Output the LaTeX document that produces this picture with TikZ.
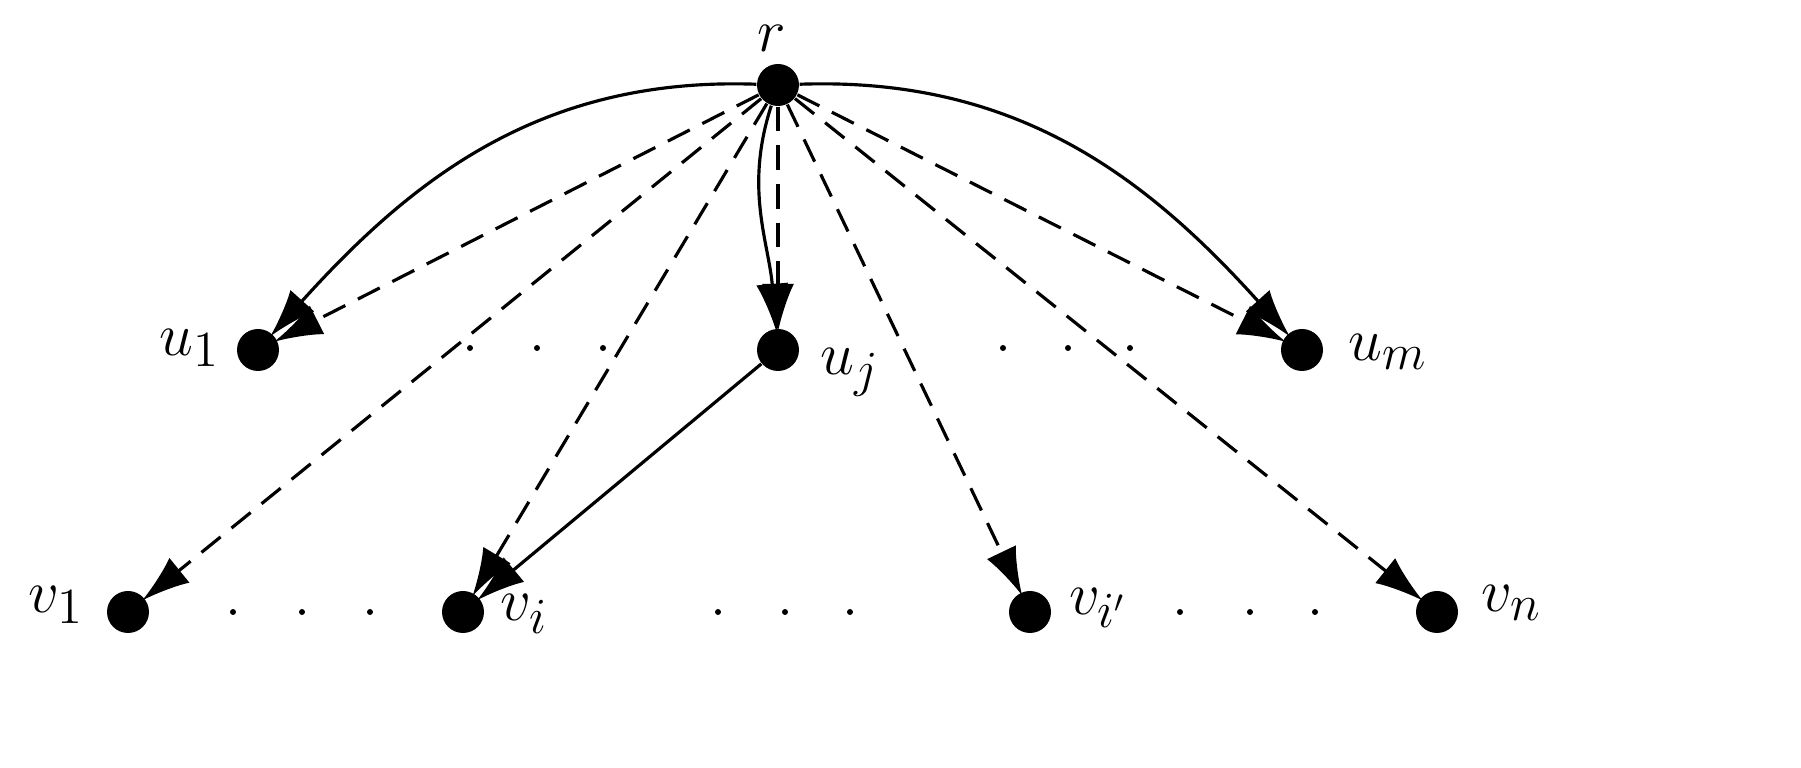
\documentclass[tikz,border=0pt]{standalone}
\usetikzlibrary{arrows.meta}
\begin{document}
\begin{tikzpicture}[x=0.1mm,y=-0.1mm,
  vtx/.style={circle,fill=black,inner sep=0pt,minimum size=4.2mm},
  dt/.style={circle,fill=black,inner sep=0pt,minimum size=0.6mm},
  lab/.style={font=\fontsize{19}{22}\selectfont},
  arr/.style={line width=0.9pt,-{Latex[length=4.8mm,width=3.2mm]},shorten >=-1pt},
  dsh/.style={arr,dash pattern=on 7pt off 4pt}]
\useasboundingbox (0,0) rectangle (1801,768);
\node[vtx] (r) at (778,85) {};
\node[vtx] (u1) at (258,350) {};
\node[vtx] (uj) at (778,350) {};
\node[vtx] (um) at (1302,350) {};
\node[vtx] (v1) at (128,612) {};
\node[vtx] (vi) at (463,612) {};
\node[vtx] (vip) at (1030,612) {};
\node[vtx] (vn) at (1437,612) {};
\node[lab] (lr) at (772,38) {$r$};
\node[lab] (lu1) at (190,348) {$u_1$};
\node[lab] (luj) at (850,372) {$u_j$};
\node[lab] (lum) at (1388,352) {$u_m$};
\node[lab] (lv1) at (56,605) {$v_1$};
\node[lab] (lvi) at (524,614) {$v_i$};
\node[lab] (lvip) at (1098,608) {$v_{i'}$};
\node[lab] (lvn) at (1512,603) {$v_n$};
\foreach \x/\y [count=\k] in {470/348,537/348,603/348,1003/348,1068/348,1130/348,233/612,302/612,370/612,718/612,785/612,850/612,1180/612,1250/612,1315/612}
  \node[dt] (d\k) at (\x,\y) {};
\draw[arr] (r) to[out=178,in=48] (u1);
\draw[arr] (r) to[out=2,in=132] (um);
\draw[arr] (r) to[out=252,in=95] (uj);
\draw[arr] (uj) -- (vi);
\draw[dsh] (r) -- (u1);
\draw[dsh] (r) -- (um);
\draw[dsh] (r) -- (uj);
\draw[dsh] (r) -- (v1);
\draw[dsh] (r) -- (vi);
\draw[dsh] (r) -- (vip);
\draw[dsh] (r) -- (vn);
\end{tikzpicture}
\end{document}
